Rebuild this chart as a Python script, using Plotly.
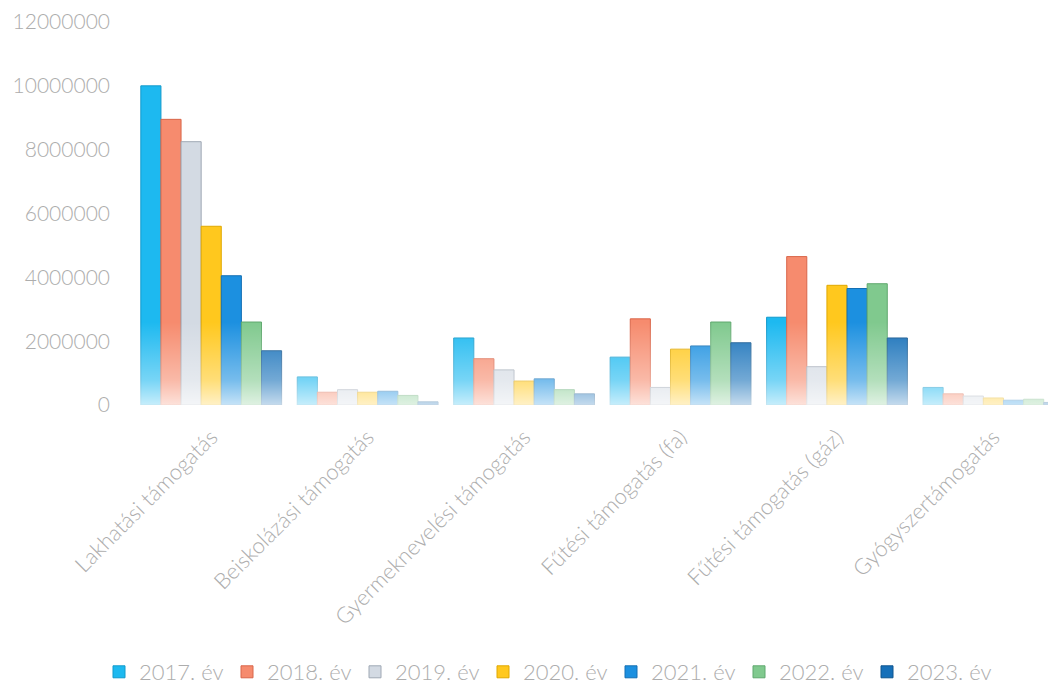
import plotly.graph_objects as go

categories = ["Lakhatási támogatás", "Beiskolázási támogatás", "Gyermeknevelési támogatás",
              "Fűtési támogatás (fa)", "Fűtési támogatás (gáz)", "Gyógyszertámogatás"]
series_names = ["2017. év", "2018. év", "2019. év", "2020. év", "2021. év", "2022. év", "2023. év"]

v2017 = [10000000, 880000, 2100000, 1500000, 2750000, 550000]
v2018 = [8950000, 400000, 1450000, 2700000, 4650000, 350000]
v2019 = [8250000, 480000, 1100000, 550000, 1200000, 280000]
v2020 = [5600000, 400000, 750000, 1750000, 3750000, 220000]
v2021 = [4050000, 430000, 820000, 1850000, 3650000, 150000]
v2022 = [2600000, 300000, 480000, 2600000, 3800000, 180000]
v2023 = [1700000, 100000, 350000, 1950000, 2100000, 80000]
series_values = [v2017, v2018, v2019, v2020, v2021, v2022, v2023]

colors = ["#1DB9F0", "#F68B6E", "#D3DAE3", "#FFC81E", "#1C90E0", "#80C98E", "#1670B9"]
line_colors = ["#129ACB", "#D9664A", "#9FA8B4", "#E0A800", "#146FB3", "#5FA86E", "#0F548E"]

y_ticks = [0, 2000000, 4000000, 6000000, 8000000, 10000000, 12000000]
FADE_TOP = 2600000

fig = go.Figure()
for name, vals, c, lc in zip(series_names, series_values, colors, line_colors):
    fig.add_trace(go.Bar(x=categories, y=vals, name=name,
                         marker=dict(color=c, line=dict(color=lc, width=1))))

# soft white fade toward the floor (decorative, mimics gradient bars)
fig.add_trace(go.Scatter(x=[-0.5, 5.5], y=[FADE_TOP, FADE_TOP], mode="lines",
                         line=dict(width=0), fill="tozeroy",
                         fillgradient=dict(type="vertical", start=0, stop=FADE_TOP,
                                           colorscale=[[0, "rgba(255,255,255,0.75)"],
                                                       [0.3, "rgba(255,255,255,0.4)"],
                                                       [1, "rgba(255,255,255,0)"]]),
                         showlegend=False, hoverinfo="skip", xaxis="x2"))

font_family = "Lato, Open Sans, sans-serif"
gray = "#ADADAD"

fig.update_layout(
    width=1048, height=685,
    paper_bgcolor="white", plot_bgcolor="white",
    margin=dict(l=125, r=0, t=14, b=288, autoexpand=False),
    barmode="group", bargap=0.1, bargroupgap=0.0,
    font=dict(family=font_family, color=gray, size=20, weight=300),
    xaxis=dict(range=[-0.5, 5.4], tickangle=-45, showgrid=False, showline=False,
               zeroline=False, ticks="", automargin=False, ticklabelstandoff=14,
               tickfont=dict(size=22, color=gray, weight=300, family=font_family)),
    xaxis2=dict(range=[-0.5, 5.4], overlaying="x", visible=False),
    yaxis=dict(range=[0, 12000000], tickvals=y_ticks, tickformat="d", automargin=False,
               showgrid=False, zeroline=False, showline=False, ticks="",
               tickfont=dict(size=21, color=gray, weight=300, family=font_family),
               ticklabelstandoff=22),
    legend=dict(orientation="h", xref="container", yref="container",
                x=91 / 1048, xanchor="left", y=-0.006, yanchor="bottom",
                font=dict(size=22, color=gray, weight=300, family=font_family),
                entrywidth=83, itemwidth=30),
    showlegend=True,
)

fig.write_html("out.html")
